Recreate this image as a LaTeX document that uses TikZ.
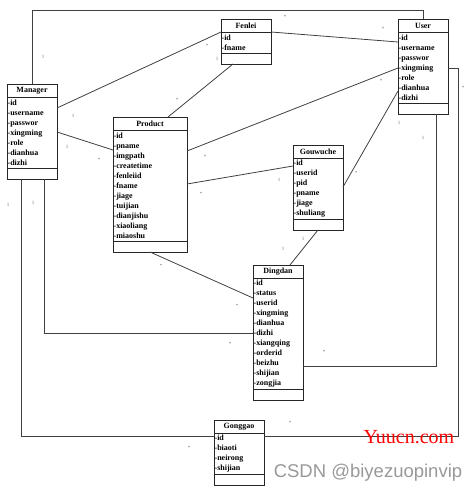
\documentclass[tikz,border=0pt]{standalone}
\usepackage{fontspec}
\setmainfont{Liberation Serif}
\newfontfamily\wmsans{Liberation Sans}
\usetikzlibrary{positioning}

\begin{document}
\begin{tikzpicture}[
    x=1pt, y=-1pt,
    node distance=0pt,
    classhead/.style={rectangle, draw=black!85, line width=0.9pt, fill=white, inner sep=0pt, outer sep=0pt,
                  minimum width=#1, minimum height=13pt, anchor=north west, font=\fontsize{8}{10}\selectfont\bfseries},
    classhead/.default=50pt,
    classattr/.style={rectangle, draw=black!85, line width=0.9pt, fill=white, inner xsep=0.6pt, inner ysep=0pt, outer sep=0pt,
                  text width=48.8pt, minimum height={10pt*#1+1pt}, align=left, font=\fontsize{8}{10}\selectfont\bfseries},
    classops/.style={rectangle, draw=black!85, line width=0.9pt, fill=white, inner sep=0pt, outer sep=0pt,
                  minimum width=#1, minimum height=11pt},
    classops/.default=50pt,
    assoc/.style={draw=black!75, line width=0.8pt},
    mult/.style={text=black!55, inner sep=0pt, font=\fontsize{5}{5}\selectfont}
]
\useasboundingbox (0,0) rectangle (469,492);

% classes
\node[classhead] (mgr) at (7,84) {Manager};
\node[classattr=7, below=of mgr] (mgrattr) {-id\\-username\\-passwor\\-xingming\\-role\\-dianhua\\-dizhi};
\node[classops, below=of mgrattr] (mgrops) {};

\node[classhead] (fenlei) at (221,19) {Fenlei};
\node[classattr=2, below=of fenlei] (fenleiattr) {-id\\-fname};
\node[classops, below=of fenleiattr] (fenleiops) {};

\node[classhead] (user) at (398,19) {User};
\node[classattr=7, below=of user] (userattr) {-id\\-username\\-passwor\\-xingming\\-role\\-dianhua\\-dizhi};
\node[classops, below=of userattr] (userops) {};

\node[classhead=74pt] (product) at (113,117) {Product};
\node[classattr=11, text width=72.8pt, below=of product] (productattr) {-id\\-pname\\-imgpath\\-createtime\\-fenleiid\\-fname\\-jiage\\-tuijian\\-dianjishu\\-xiaoliang\\-miaoshu};
\node[classops=74pt, below=of productattr] (productops) {};

\node[classhead] (gwc) at (293,145) {Gouwuche};
\node[classattr=6, below=of gwc] (gwcattr) {-id\\-userid\\-pid\\-pname\\-jiage\\-shuliang};
\node[classops, below=of gwcattr] (gwcops) {};

\node[classhead] (dingdan) at (253,265) {Dingdan};
\node[classattr=11, below=of dingdan] (ddattr) {-id\\-status\\-userid\\-xingming\\-dianhua\\-dizhi\\-xiangqing\\-orderid\\-beizhu\\-shijian\\-zongjia};
\node[classops, below=of ddattr] (ddops) {};

\node[classhead] (gonggao) at (214,420) {Gonggao};
\node[classattr=4, below=of gonggao] (ggattr) {-id\\-biaoti\\-neirong\\-shijian};
\node[classops, below=of ggattr] (ggops) {};

% associations
\draw[assoc] (mgr.north) -- ++(0,-74) -| (user.north);
\draw[assoc] ([yshift=-11pt]mgrattr.north east) -- (fenlei.south west);
\draw[assoc] ([xshift=-13pt]fenleiops.south) -- ([xshift=18pt]product.north);
\draw[assoc] (fenlei.south east) -- ([yshift=-10pt]userattr.north west);
\draw[assoc] ([yshift=-36pt]userattr.north west) -- ([yshift=-21pt]productattr.north east);
\draw[assoc] ([yshift=-35pt]mgrattr.north east) -- ([yshift=-20pt]productattr.north west);
\draw[assoc] ([yshift=-54pt]productattr.north east) -- ([yshift=-8pt]gwcattr.north west);
\draw[assoc] ([yshift=-59pt]userattr.north west) -- ([yshift=-29pt]gwcattr.north east);
\draw[assoc] ([yshift=-36pt]userattr.north east) -- ++(10,0) |- ([yshift=-3pt]ggattr.north east);
\draw[assoc] ([xshift=13pt]userops.south) |- ([yshift=-88pt]ddattr.north east);
\draw[assoc] ([xshift=-11pt]mgrops.south) |- ([yshift=-3pt]ggattr.north west);
\draw[assoc] ([xshift=12pt]mgrops.south) |- ([yshift=-55pt]ddattr.north west);
\draw[assoc] (productops.south) -- ([yshift=-20pt]ddattr.north west);
\draw[assoc] (gwcops.south) -- ([xshift=12pt]dingdan.north);

% multiplicities
\foreach \txt/\px/\py [count=\i] in {1/43/57, */285/17, */383/29, */207/46, 1/217/59, 1/73/116, */177/100,
    */381/81, */463/88, 1/67/147, */99/160, */205/157, 1/279/180, */201/194, */356/173, 1/399/123,
    1/423/138, 1/8/205, 1/33/203, 1/303/239, 1/283/249, */161/266, */237/306, */230/344, */324/352,
    */290/423, */189/448}
  \node[mult] (mult\i) at (\px,\py) {\txt};

% watermarks
\node[text=red, inner sep=0pt, font=\fontsize{20}{20}\selectfont] (yuucn) at (409,437) {Yuucn.com};
\node[text=black!40, inner sep=0pt, font=\wmsans\fontsize{18.5}{18.5}\selectfont] (csdn) at (368,473) {CSDN @biyezuopinvip};
\end{tikzpicture}
\end{document}
